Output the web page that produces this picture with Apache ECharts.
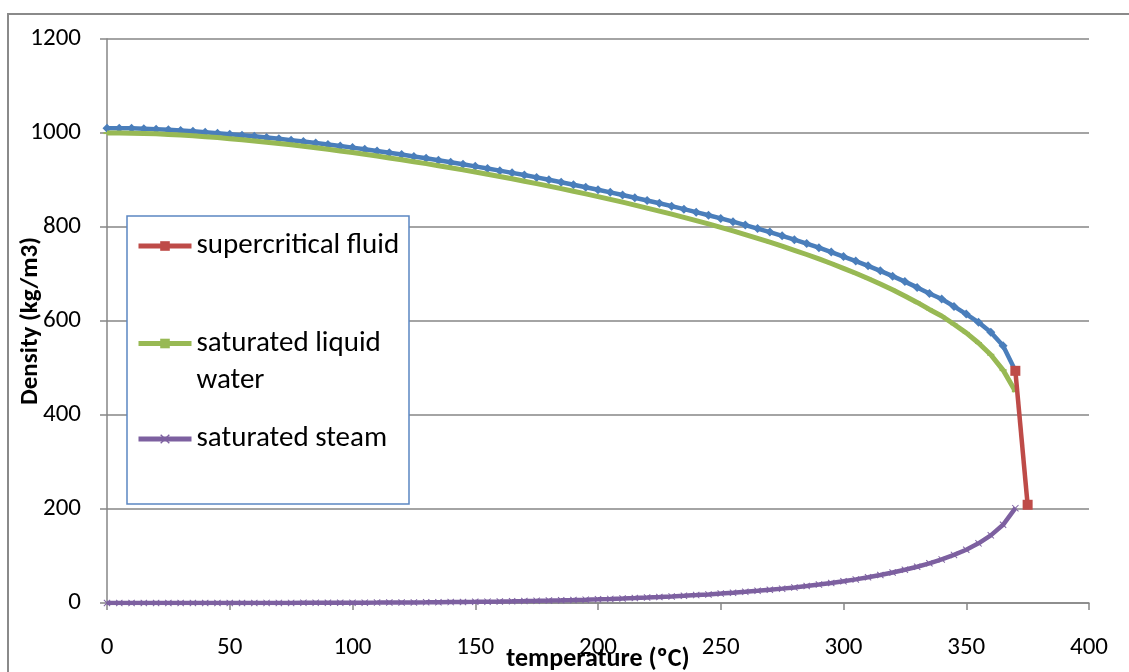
<!DOCTYPE html>
<html>
<head>
<meta charset="utf-8">
<script src="https://cdn.jsdelivr.net/npm/echarts@6/dist/echarts.min.js"></script>
<style>
  html, body { margin: 0; padding: 0; background: #ffffff; }
  #chart { width: 1129px; height: 672px; }
</style>
</head>
<body>
<div id="chart"></div>
<script>
// Temperature steps (ºC)
const temperatures = [
  0, 5, 10, 15, 20, 25, 30, 35, 40, 45, 50, 55, 60, 65, 70, 75, 80, 85, 90, 95,
  100, 105, 110, 115, 120, 125, 130, 135, 140, 145, 150, 155, 160, 165, 170, 175,
  180, 185, 190, 195, 200, 205, 210, 215, 220, 225, 230, 235, 240, 245, 250, 255,
  260, 265, 270, 275, 280, 285, 290, 295, 300, 305, 310, 315, 320, 325, 330, 335,
  340, 345, 350, 355, 360, 365, 370
];

// Liquid water held at the critical pressure (kg/m3)
const compressedLiquid = [
  1010.3, 1010.3, 1009.9, 1009.1, 1008.1, 1006.8, 1005.3, 1003.6, 1001.8, 999.7,
  997.5, 995.3, 992.9, 990.3, 987.6, 984.8, 981.9, 978.8, 975.6, 972.3,
  968.9, 965.3, 961.7, 957.9, 954.2, 950.2, 946.2, 942.0, 937.8, 933.4,
  929.0, 924.5, 919.9, 915.2, 910.5, 905.5, 900.5, 895.3, 890.0, 884.6,
  879.2, 873.7, 868.1, 862.3, 856.4, 850.4, 844.3, 838.0, 831.6, 825.0,
  818.2, 811.3, 804.1, 796.7, 789.2, 781.3, 773.1, 764.7, 755.9, 746.7,
  737.1, 727.5, 717.4, 706.7, 695.4, 683.8, 671.5, 658.6, 646.7, 631.0,
  614.7, 597.1, 576.1, 547.5, 494.0
];

// Saturated liquid water (kg/m3)
const saturatedLiquid = [
  999.8, 999.9, 999.7, 999.1, 998.2, 997.0, 995.6, 994.0, 992.2, 990.2,
  988.0, 985.7, 983.2, 980.5, 977.7, 974.8, 971.8, 968.6, 965.3, 961.9,
  958.4, 954.7, 950.9, 947.0, 943.1, 939.0, 934.8, 930.5, 926.1, 921.6,
  917.0, 912.3, 907.4, 902.5, 897.5, 892.3, 887.0, 881.6, 876.0, 870.4,
  864.7, 858.8, 852.8, 846.6, 840.3, 833.9, 827.3, 820.5, 813.6, 806.5,
  799.2, 791.7, 783.9, 775.9, 767.8, 759.3, 750.5, 741.5, 732.1, 722.3,
  712.1, 701.5, 690.4, 678.7, 666.4, 653.3, 639.5, 624.6, 610.7, 593.0,
  574.7, 553.1, 528.1, 495.5, 450.5
];

// Saturated steam (kg/m3)
const saturatedSteam = [
  0.0048, 0.0068, 0.0094, 0.0128, 0.0173, 0.0231, 0.0304, 0.0397, 0.0512, 0.0655,
  0.0831, 0.1045, 0.1304, 0.1614, 0.1983, 0.2421, 0.2935, 0.3536, 0.4235, 0.5045,
  0.5981, 0.7046, 0.8269, 0.9662, 1.122, 1.299, 1.497, 1.719, 1.967, 2.242,
  2.548, 2.886, 3.260, 3.671, 4.122, 4.617, 5.160, 5.750, 6.398, 7.100,
  7.865, 8.690, 9.596, 10.57, 11.63, 12.77, 14.00, 15.35, 16.77, 18.33,
  19.99, 21.81, 23.74, 25.84, 28.11, 30.58, 33.21, 36.08, 39.20, 42.58,
  46.25, 50.26, 54.64, 59.44, 64.75, 70.66, 77.15, 84.42, 92.76, 102.3,
  113.4, 126.9, 143.9, 166.4, 201.8
];

// Supercritical transition
const supercriticalTemps = [370, 375];
const supercriticalDensity = [494, 209];

// Axis ticks
const xTicks = [0, 50, 100, 150, 200, 250, 300, 350, 400];
const yTicks = [0, 200, 400, 600, 800, 1000, 1200];

const seriesNames = ['compressed liquid', 'supercritical fluid', 'saturated liquid water', 'saturated steam'];

const FONT = 'Carlito, Lato, "Noto Sans", sans-serif';
const crossPath = 'path://M0,1 L1,0 L5,4 L9,0 L10,1 L6,5 L10,9 L9,10 L5,6 L1,10 L0,9 L4,5 Z';

const pairs = (xs, ys) => xs.map((x, i) => [x, ys[i]]);

const chart = echarts.init(document.getElementById('chart'), null, { renderer: 'canvas' });

const legendCommon = {
  orient: 'vertical',
  left: 136,
  padding: 0,
  itemWidth: 53,
  itemHeight: 12,
  itemGap: 0,
  z: 30,
  selectedMode: false,
  lineStyle: { width: 5 },
  textStyle: { fontFamily: FONT, fontSize: 29, color: '#000000', lineHeight: 32 }
};

chart.setOption({
  animation: false,
  backgroundColor: '#ffffff',
  grid: { left: 107, right: 40, top: 39, bottom: 69, containLabel: false, outerBoundsMode: 'none' },
  xAxis: {
    type: 'value',
    min: xTicks[0],
    max: xTicks[xTicks.length - 1],
    interval: xTicks[1] - xTicks[0],
    name: 'temperature (ºC)',
    nameLocation: 'middle',
    nameGap: 43,
    nameMoveOverlap: false,
    nameTextStyle: { fontFamily: FONT, fontSize: 26, fontWeight: 'bold', color: '#000000' },
    axisLine: { show: true, onZero: false, lineStyle: { color: '#868686', width: 1.5 } },
    axisTick: { show: true, inside: false, length: 7, lineStyle: { color: '#868686', width: 1.5 } },
    axisLabel: { fontFamily: FONT, fontSize: 25, color: '#000000', margin: 32 },
    splitLine: { show: false }
  },
  yAxis: {
    type: 'value',
    min: yTicks[0],
    max: yTicks[yTicks.length - 1],
    interval: yTicks[1] - yTicks[0],
    name: 'Density (kg/m3)',
    nameLocation: 'middle',
    nameGap: 64,
    nameMoveOverlap: false,
    nameRotate: 90,
    nameTextStyle: { fontFamily: FONT, fontSize: 25, fontWeight: 'bold', color: '#000000' },
    axisLine: { show: true, lineStyle: { color: '#868686', width: 1.5 } },
    axisTick: { show: true, inside: false, length: 7, lineStyle: { color: '#868686', width: 1.5 } },
    axisLabel: { fontFamily: FONT, fontSize: 25, color: '#000000', margin: 26, formatter: (v) => String(v) },
    splitLine: { show: true, lineStyle: { color: '#868686', width: 1.6 } }
  },
  legend: [
    Object.assign({}, legendCommon, { data: [seriesNames[1]], top: 230 }),
    Object.assign({}, legendCommon, {
      data: [seriesNames[2]],
      top: 288,
      // blank first line keeps the icon level with "saturated liquid"
      formatter: () => '\nsaturated liquid\nwater',
      textStyle: Object.assign({}, legendCommon.textStyle, { lineHeight: 37 })
    }),
    Object.assign({}, legendCommon, { data: [seriesNames[3]], top: 423 })
  ],
  graphic: [
    {
      type: 'rect',
      shape: { x: 8, y: 14, width: 1140, height: 700 },
      style: { fill: 'none', stroke: '#8a8a8a', lineWidth: 2 },
      silent: true, z: -10
    },
    {
      type: 'rect',
      shape: { x: 127, y: 216, width: 282, height: 288 },
      style: { fill: '#ffffff', stroke: '#5b87c2', lineWidth: 1.5 },
      silent: true, z: 20
    }
  ],
  series: [
    {
      name: seriesNames[0],
      type: 'line',
      data: pairs(temperatures, compressedLiquid),
      symbol: 'diamond',
      symbolSize: 9,
      showAllSymbol: true,
      lineStyle: { color: '#4a7ebb', width: 4.5 },
      itemStyle: { color: '#4a7ebb' },
      z: 2
    },
    {
      name: seriesNames[1],
      type: 'line',
      data: pairs(supercriticalTemps, supercriticalDensity),
      symbol: 'rect',
      symbolSize: 10,
      lineStyle: { color: '#be4b48', width: 4.5 },
      itemStyle: { color: '#be4b48' },
      z: 5
    },
    {
      name: seriesNames[2],
      type: 'line',
      data: pairs(temperatures, saturatedLiquid),
      symbol: 'rect',
      symbolSize: [7, 2],
      showAllSymbol: true,
      lineStyle: { color: '#98b954', width: 5 },
      itemStyle: { color: '#98b954' },
      z: 3
    },
    {
      name: seriesNames[3],
      type: 'line',
      data: pairs(temperatures, saturatedSteam),
      symbol: crossPath,
      symbolSize: 7,
      showAllSymbol: true,
      lineStyle: { color: '#7d60a0', width: 4.5 },
      itemStyle: { color: '#7d60a0' },
      z: 4
    }
  ]
});
</script>
</body>
</html>
